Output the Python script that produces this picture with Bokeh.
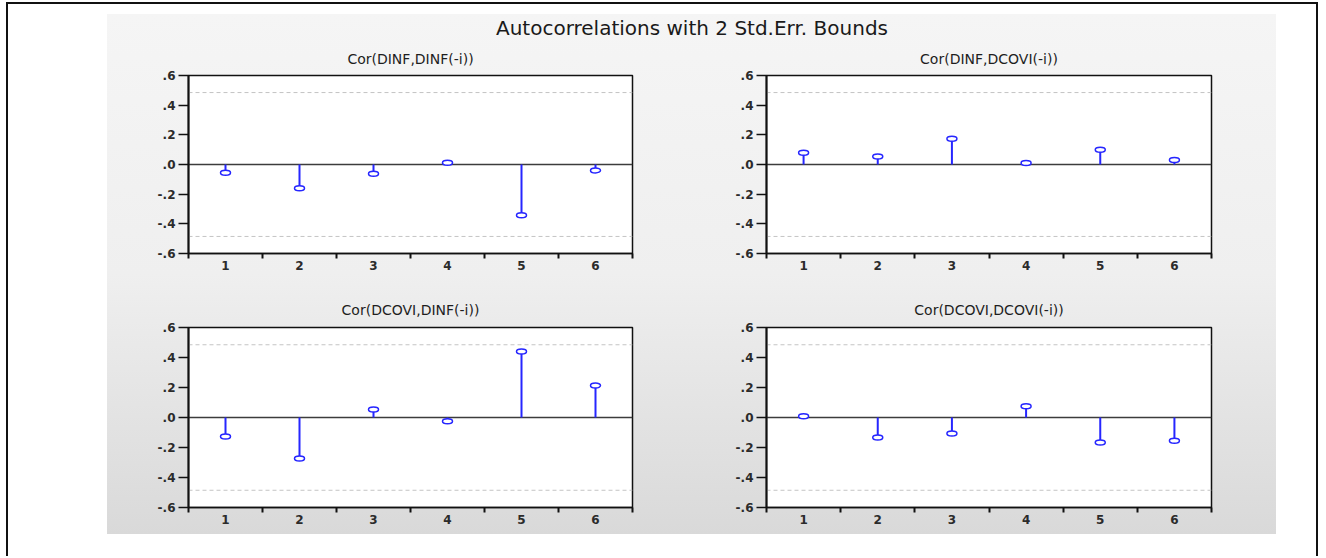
from bokeh.plotting import figure
from bokeh.layouts import column, row
from bokeh.models import Span, FixedTicker, ColumnDataSource
from bokeh.core.properties import value
from bokeh.embed import file_html
from bokeh.resources import INLINE

# ---------------- data ----------------
lags = [1, 2, 3, 4, 5, 6]
cor_dinf_dinf = [-0.056, -0.160, -0.063, 0.011, -0.342, -0.040]
cor_dinf_dcovi = [0.079, 0.054, 0.173, 0.010, 0.100, 0.030]
cor_dcovi_dinf = [-0.127, -0.273, 0.053, -0.025, 0.440, 0.213]
cor_dcovi_dcovi = [0.009, -0.133, -0.107, 0.075, -0.167, -0.155]
panel_titles = ["Cor(DINF,DINF(-i))", "Cor(DINF,DCOVI(-i))",
                "Cor(DCOVI,DINF(-i))", "Cor(DCOVI,DCOVI(-i))"]
main_title = "Autocorrelations with 2 Std.Err. Bounds"
se_bound = 0.485
y_ticks = [-0.6, -0.4, -0.2, 0.0, 0.2, 0.4, 0.6]
y_tick_labels = ["-.6", "-.4", "-.2", ".0", ".2", ".4", ".6"]
x_boundaries = [0.5, 1.5, 2.5, 3.5, 4.5, 5.5, 6.5]

BLUE = "#2626ff"
FONT = "DejaVu Sans"


def make_panel(title, vals, width, height, mbl, mbr, mbt, mbb, standoff):
    p = figure(width=width, height=height, x_range=(0.5, 6.5), y_range=(-0.6, 0.6),
               output_backend="svg", toolbar_location=None,
               min_border_left=mbl, min_border_right=mbr,
               min_border_top=mbt, min_border_bottom=mbb)
    p.border_fill_color = None
    p.background_fill_color = "white"
    p.grid.visible = False
    p.outline_line_color = "#111111"
    p.outline_line_width = 1.5

    p.title.text = title
    p.title.align = "center"
    p.title.text_font = FONT
    p.title.text_font_size = "14px"
    p.title.text_font_style = "normal"
    p.title.text_color = "#1e1e1e"
    p.title.standoff = standoff

    src = ColumnDataSource(dict(lag=lags, val=vals, zero=[0] * len(lags)))

    p.add_layout(Span(location=0, dimension="width", line_color="#3c3c3c",
                      line_width=1.5, level="underlay"))
    for b in (se_bound, -se_bound):
        p.add_layout(Span(location=b, dimension="width", line_color="#c4c4c4",
                          line_width=1, line_dash="4 3", level="underlay"))

    p.segment(x0="lag", y0="zero", x1="lag", y1="val", source=src,
              line_color=BLUE, line_width=2)
    p.ellipse(x="lag", y="val", width=10, height=5, width_units="screen",
              height_units="screen", source=src, fill_color="white",
              line_color=BLUE, line_width=1.5)

    # x axis
    xa = p.xaxis[0]
    xa.ticker = FixedTicker(ticks=lags, minor_ticks=x_boundaries)
    xa.major_tick_line_color = None
    xa.major_tick_in = 0
    xa.major_tick_out = 0
    xa.minor_tick_line_color = "#111111"
    xa.minor_tick_line_width = 2
    xa.minor_tick_in = 0
    xa.minor_tick_out = 5
    xa.axis_line_color = "#111111"
    xa.axis_line_width = 1.5
    xa.major_label_standoff = 2
    xa.major_label_text_font = FONT
    xa.major_label_text_font_size = "12px"
    xa.major_label_text_font_style = "bold"
    xa.major_label_text_color = "#2b2b2b"

    # y axis
    ya = p.yaxis[0]
    ya.ticker = FixedTicker(ticks=y_ticks)
    ya.major_label_overrides = dict(zip(y_ticks, y_tick_labels))
    ya.minor_tick_line_color = None
    ya.major_tick_line_color = "#111111"
    ya.major_tick_line_width = 1.5
    ya.major_tick_in = 0
    ya.major_tick_out = 10
    ya.axis_line_color = "#111111"
    ya.axis_line_width = 2
    ya.major_label_standoff = 3
    ya.major_label_text_font = FONT
    ya.major_label_text_font_size = "12px"
    ya.major_label_text_font_style = "bold"
    ya.major_label_text_color = "#2b2b2b"
    return p


# header with main title
header = figure(width=1169, height=26, x_range=(0, 1), y_range=(0, 1),
                output_backend="svg", toolbar_location=None,
                x_axis_location=None, y_axis_location=None,
                min_border=0)
header.grid.visible = False
header.outline_line_color = None
header.background_fill_color = None
header.border_fill_color = None
header.text(x=[0.5], y=[0.5], text=[main_title], text_align="center",
            text_baseline="middle", text_font=value(FONT), text_font_size="20px",
            text_color="#1a1a1a")

tl = make_panel(panel_titles[0], cor_dinf_dinf, 593, 240, 81, 68, 35, 27, 17)
tr = make_panel(panel_titles[1], cor_dinf_dcovi, 576, 240, 66, 65, 35, 27, 17)
bl = make_panel(panel_titles[2], cor_dcovi_dinf, 593, 254, 81, 68, 47, 27, 19)
br = make_panel(panel_titles[3], cor_dcovi_dcovi, 576, 254, 66, 65, 47, 27, 19)

gray = column(header, row(tl, tr), row(bl, br),
              styles={"background": "linear-gradient(180deg, #f5f5f5 0%, #efefef 50%, #d9d9d9 100%)"},
              margin=(10, 0, 0, 99))

outer = column(gray, width=1312, height=554, margin=(2, 0, 0, 6),
               styles={"border-top": "2px solid #111111",
                       "border-left": "2px solid #111111",
                       "border-right": "2px solid #111111",
                       "box-sizing": "border-box"})

open("out.html", "w").write(file_html(outer, INLINE))
